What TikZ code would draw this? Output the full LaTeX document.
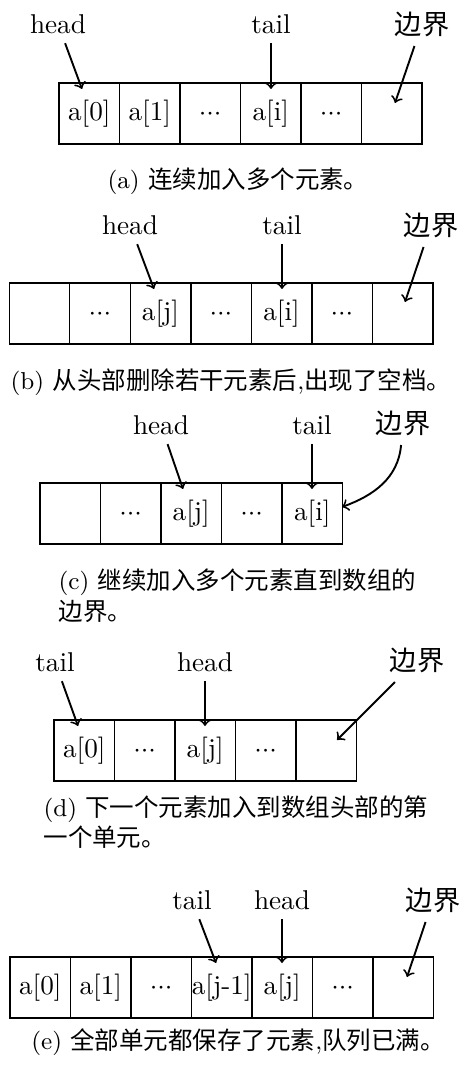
\documentclass[tikz,border=0pt]{standalone}
\usepackage{fontspec}
\newfontfamily\cjk{Noto Sans CJK SC}
\newcommand{\mydots}{${\cdot}{\cdot}{\cdot}$}
\begin{document}
\begin{tikzpicture}[x=0.3676pt, y=-0.3676pt,
  cell/.style={draw, line width=0.55pt, minimum width=22.24pt, minimum height=22.42pt,
    inner sep=0pt, outer sep=0pt, text height=7.5pt, text depth=2.5pt,
    font=\fontsize{10}{12}\selectfont},
  lab/.style={font=\fontsize{10}{12}\selectfont},
  cjklab/.style={font=\cjk\fontsize{10}{12}\selectfont},
  arr/.style={->, line width=0.7pt},
  captxt/.style={font=\fontsize{9}{11}\selectfont, inner sep=0pt}]
\useasboundingbox (0,0) rectangle (463,1065);

% ---------- (a)
\foreach \t [count=\i] in {a[0],a[1],\mydots,a[i],\mydots,{}}
  \node[cell] (A\i) at ({89.25+60.5*(\i-1)},113.5) {\t};
\node[lab] (hA) at (58,24) {head};
\node[lab] (tA) at (271,24) {tail};
\node[cjklab] (bA) at (422,24) {边界};
\coordinate (hAe) at (82,89);
\coordinate (tAe) at (271,89);
\coordinate (bAe) at (395,103);
\draw[arr] (hA) -- (hAe);
\draw[arr] (tA) -- (tAe);
\draw[arr] (bA) -- (bAe);
\node[captxt] (cA) at (238,181) {(a) {\cjk 连续加入多个元素。}};

% ---------- (b)
\foreach \t [count=\i] in {{},\mydots,a[j],\mydots,a[i],\mydots,{}}
  \node[cell] (B\i) at ({39.5+60.5*(\i-1)},313.5) {\t};
\node[lab] (hB) at (130,225) {head};
\node[lab] (tB) at (282,225) {tail};
\node[cjklab] (bB) at (431,225) {边界};
\coordinate (hBe) at (154,289);
\coordinate (tBe) at (282,289);
\coordinate (bBe) at (405,302);
\draw[arr] (hB) -- (hBe);
\draw[arr] (tB) -- (tBe);
\draw[arr] (bB) -- (bBe);
\node[captxt] (cB) at (231,382) {(b) {\cjk 从头部删除若干元素后},{\cjk 出现了空档。}};

% ---------- (c)
\foreach \t [count=\i] in {{},\mydots,a[j],\mydots,a[i]}
  \node[cell] (C\i) at ({70.25+60.5*(\i-1)},513.5) {\t};
\node[lab] (hC) at (161,425) {head};
\node[lab] (tC) at (312,425) {tail};
\node[cjklab] (bC) at (403,423) {边界};
\coordinate (hCe) at (183,489);
\coordinate (tCe) at (312,489);
\coordinate (bCe) at (342,507);
\draw[arr] (hC) -- (hCe);
\draw[arr] (tC) -- (tCe);
\draw[arr] (bC) to[out=-95,in=20] (bCe);
\node[captxt, anchor=base west] (cC1) at (58,589) {(c) {\cjk 继续加入多个元素直到数组的}};
\node[captxt, anchor=base west] (cC2) at (58,620) {{\cjk 边界。}};

% ---------- (d)
\foreach \t [count=\i] in {a[0],\mydots,a[j],\mydots,{}}
  \node[cell] (D\i) at ({84.25+60.5*(\i-1)},750.5) {\t};
\node[lab] (tD) at (55,662) {tail};
\node[lab] (hD) at (205,662) {head};
\node[cjklab] (bD) at (417,660) {边界};
\coordinate (tDe) at (78,726);
\coordinate (hDe) at (205,726);
\coordinate (bDe) at (337,740);
\draw[arr] (tD) -- (tDe);
\draw[arr] (hD) -- (hDe);
\draw[arr] (bD) -- (bDe);
\node[captxt, anchor=base west] (cD1) at (43,816) {(d) {\cjk 下一个元素加入到数组头部的第}};
\node[captxt, anchor=base west] (cD2) at (43,846) {{\cjk 一个单元。}};

% ---------- (e)
\foreach \t [count=\i] in {a[0],a[1],\mydots,a[j-1],a[j],\mydots,{}}
  \node[cell] (E\i) at ({40.25+60.5*(\i-1)},987.5) {\t};
\node[lab] (tE) at (192,900) {tail};
\node[lab] (hE) at (282,900) {head};
\node[cjklab] (bE) at (433,900) {边界};
\coordinate (tEe) at (216,963);
\coordinate (hEe) at (282,963);
\coordinate (bEe) at (407,977);
\draw[arr] (tE) -- (tEe);
\draw[arr] (hE) -- (hEe);
\draw[arr] (bE) -- (bEe);
\node[captxt] (cE) at (238,1042) {(e) {\cjk 全部单元都保存了元素},{\cjk 队列已满。}};
\end{tikzpicture}
\end{document}
